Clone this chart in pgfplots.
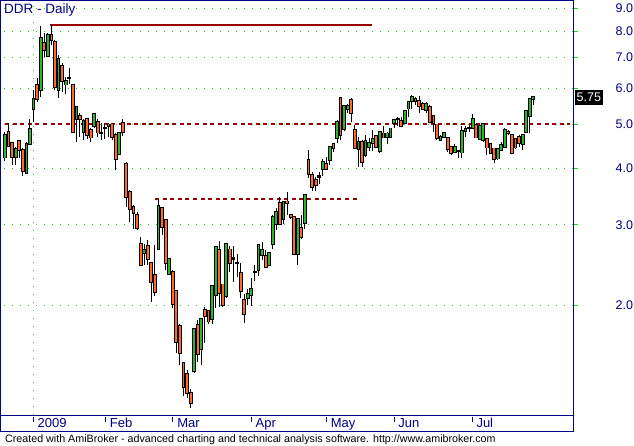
\documentclass[border=0pt]{standalone}
\usepackage{fontspec}
\setmainfont{Liberation Sans}
\usepackage{pgfplots}
\usepackage{pgfplotstable}
\pgfplotsset{compat=1.18}
\definecolor{navy}{HTML}{000088}
\definecolor{gridgreen}{HTML}{33CC33}
\definecolor{upgreen}{HTML}{2DB52D}
\definecolor{downorange}{HTML}{FF6A2B}
\definecolor{trendred}{HTML}{990000}
\newcommand\lab{\fontsize{12.5}{14}\selectfont}

% daily bars, i = bar number (19 Dec 2008 = 0), o h l c
\pgfplotstableread{
i o h l c
0 4.22 4.81 4.15 4.73
1 4.81 5.03 4.45 4.48
2 4.54 4.55 4.06 4.23
3 4.23 4.46 4.06 4.40
4 4.59 4.61 4.21 4.38
5 4.38 4.43 3.84 3.95
6 3.91 4.57 3.89 4.52
7 4.52 5.14 4.50 4.87
8 5.39 5.94 5.05 5.68
9 6.11 6.30 5.60 5.67
10 5.94 8.22 5.74 7.72
11 7.55 7.92 7.03 7.27
12 7.05 7.92 7.03 7.85
13 7.85 8.27 7.46 7.65
14 7.58 7.65 5.94 6.02
15 5.94 7.09 5.71 6.97
16 6.71 6.80 5.89 6.22
17 6.11 6.35 5.81 6.22
18 6.30 6.63 6.14 6.31
19 6.09 6.14 4.77 4.81
20 5.12 5.48 4.57 5.46
21 5.20 5.28 4.69 5.12
22 4.81 5.14 4.61 5.08
23 5.13 5.14 4.63 4.73
24 4.85 4.89 4.57 4.67
25 4.94 5.28 4.89 5.26
26 5.06 5.14 4.69 4.79
27 4.78 5.02 4.61 4.79
28 4.90 4.98 4.63 4.91
29 4.94 5.02 4.69 4.99
30 4.99 5.02 4.61 4.68
31 4.73 4.77 3.96 4.18
32 4.29 4.81 4.27 4.79
33 5.02 5.13 4.71 4.81
34 4.08 4.13 3.29 3.46
35 3.55 3.58 3.05 3.25
36 3.29 3.32 2.94 3.18
37 3.16 3.20 2.92 2.95
38 2.73 2.82 2.44 2.45
39 2.60 2.73 2.45 2.64
40 2.70 2.78 2.45 2.52
41 2.48 2.49 2.03 2.25
42 2.33 2.71 2.09 2.14
43 2.66 3.43 2.65 3.31
44 3.27 3.29 2.85 2.97
45 3.08 3.10 2.39 2.47
46 2.34 2.54 2.33 2.53
47 2.37 2.39 1.97 2.01
48 2.15 2.16 1.57 1.66
49 1.80 1.82 1.48 1.57
50 1.49 1.49 1.26 1.32
51 1.41 1.44 1.25 1.28
52 1.28 1.31 1.19 1.22
53 1.43 1.78 1.42 1.77
54 1.81 1.85 1.50 1.56
55 1.60 1.87 1.48 1.86
56 1.95 1.98 1.65 1.89
57 1.94 1.95 1.82 1.84
58 1.86 2.21 1.82 2.20
59 2.10 2.69 1.97 2.68
60 2.64 2.76 1.98 2.13
61 2.22 2.23 1.98 2.00
62 2.09 2.73 2.07 2.72
63 2.65 2.70 2.37 2.47
64 2.53 2.70 2.25 2.54
65 2.47 2.59 2.30 2.48
66 2.35 2.47 2.07 2.15
67 2.05 2.12 1.83 1.91
68 2.07 2.17 2.00 2.12
69 2.10 2.29 1.99 2.17
70 2.36 2.45 2.26 2.37
71 2.39 2.71 2.32 2.71
72 2.58 2.75 2.51 2.64
73 2.57 2.64 2.41 2.42
74 2.45 2.61 2.44 2.60
75 2.73 3.15 2.66 3.12
76 3.01 3.27 2.92 3.21
77 3.35 3.45 3.00 3.01
78 3.09 3.39 3.01 3.37
79 3.38 3.54 3.15 3.35
80 3.15 3.17 3.10 3.12
81 3.12 3.13 2.58 2.59
82 2.59 3.10 2.45 3.09
83 2.96 3.15 2.79 2.82
84 3.03 3.49 2.94 3.49
85 4.17 4.38 3.81 3.89
86 3.86 3.93 3.56 3.64
87 3.77 3.83 3.56 3.67
88 3.83 3.93 3.70 3.84
89 3.99 4.20 3.85 4.12
90 4.08 4.23 3.98 3.99
91 4.17 4.48 4.06 4.46
92 4.52 4.54 4.34 4.42
93 4.65 5.10 4.55 5.06
94 5.70 5.71 4.61 4.73
95 4.87 5.51 4.83 5.49
96 5.39 5.54 5.28 5.48
97 5.65 5.70 5.06 5.28
98 4.85 4.98 4.40 4.42
99 4.41 4.69 4.03 4.57
100 4.57 4.61 4.03 4.13
101 4.27 4.73 4.23 4.59
102 4.46 4.65 4.37 4.54
103 4.54 4.85 4.37 4.63
104 4.71 4.73 4.44 4.45
105 4.36 4.83 4.32 4.81
106 4.77 4.94 4.65 4.67
107 4.69 4.81 4.51 4.77
108 4.68 4.91 4.67 4.89
109 5.02 5.14 4.89 5.10
110 5.12 5.19 4.95 5.13
111 5.08 5.18 4.95 4.96
112 5.02 5.37 5.00 5.34
113 5.41 5.60 5.18 5.59
114 5.62 5.79 5.41 5.74
115 5.68 5.74 5.51 5.62
116 5.63 5.76 5.28 5.48
117 5.55 5.60 5.37 5.39
118 5.37 5.60 5.28 5.55
119 5.46 5.51 5.02 5.06
120 5.20 5.23 4.81 5.02
121 4.99 5.00 4.61 4.65
122 4.61 4.73 4.60 4.69
123 4.69 4.81 4.68 4.79
124 4.67 4.69 4.34 4.40
125 4.46 4.48 4.27 4.31
126 4.34 4.52 4.31 4.46
127 4.36 4.38 4.22 4.37
128 4.33 4.96 4.22 4.83
129 4.83 4.96 4.69 4.87
130 4.89 4.98 4.81 4.90
131 4.91 5.26 4.89 5.13
132 4.98 5.02 4.65 4.67
133 4.63 4.98 4.61 4.96
134 4.61 5.02 4.57 5.00
135 4.63 4.67 4.27 4.44
136 4.52 4.54 4.29 4.31
137 4.42 4.43 4.10 4.18
138 4.20 4.42 4.17 4.40
139 4.38 4.57 4.37 4.50
140 4.45 4.91 4.42 4.85
141 4.81 4.85 4.73 4.77
142 4.73 4.74 4.29 4.31
143 4.63 4.65 4.40 4.44
144 4.69 4.73 4.46 4.54
145 4.52 4.75 4.38 4.73
146 4.81 5.35 4.79 5.34
147 5.20 5.70 4.77 5.68
148 5.68 5.77 5.51 5.75
}\ohlc

\begin{document}
\begin{tikzpicture}
\begin{axis}[
  at={(0.5pt,30pt)}, anchor=south west,
  scale only axis, width=572.5pt, height=414.5pt,
  xmin=-1.26, xmax=159.1,
  ymode=log, ymin=1.146, ymax=9.35,
  clip=false,
  axis line style={navy, line width=1pt},
  xtick=\empty,
  ytick={2,3,4,5,6,7,8,9}, yticklabels={},
  ytick pos=right, tick align=outside, major tick length=4.5pt,
  ytick style={gridgreen, line width=1pt},
  ymajorgrids,
  y grid style={gridgreen, line width=1pt, dash pattern=on 1pt off 7pt, dash phase=4.2pt},
]
% year boundary grid line
\draw[gridgreen, line width=1pt, dash pattern=on 1pt off 7pt] (axis cs:7.9,1.146) -- (axis cs:7.9,9.35);

% trend lines
\addplot[trendred, line width=2pt] coordinates {(12.6,8.27) (102.9,8.27)};
\addplot[trendred, line width=1.4pt, dash pattern=on 4pt off 3.6pt] coordinates {(0,5.0) (158.3,5.0)};
\addplot[trendred, line width=1.4pt, dash pattern=on 4pt off 3.6pt] coordinates {(42,3.42) (99.2,3.42)};

% wicks
\addplot[draw=none, mark=none, error bars/.cd, y dir=plus, y explicit, error mark=none,
  error bar style={draw=black, solid, line width=1pt}]
  table[x=i, y=l, y error plus expr=\thisrow{h}-\thisrow{l}] {\ohlc};
% body outlines
\addplot[draw=none, mark=none, error bars/.cd, y dir=plus, y explicit, error mark=none,
  error bar style={draw=black, solid, line width=3.8pt, shorten <=-0.9pt, shorten >=-0.9pt}]
  table[x=i, y expr={min(\thisrow{o},\thisrow{c})}, y error plus expr={abs(\thisrow{c}-\thisrow{o})}] {\ohlc};
% up bodies
\addplot[draw=none, mark=none, restrict expr to domain={\thisrow{c}-\thisrow{o}}{0.015:100},
  error bars/.cd, y dir=plus, y explicit, error mark=none,
  error bar style={draw=upgreen, solid, line width=1.8pt}]
  table[x=i, y=o, y error plus expr=\thisrow{c}-\thisrow{o}] {\ohlc};
% down bodies
\addplot[draw=none, mark=none, restrict expr to domain={\thisrow{o}-\thisrow{c}}{0.015:100},
  error bars/.cd, y dir=plus, y explicit, error mark=none,
  error bar style={draw=downorange, solid, line width=1.8pt}]
  table[x=i, y=c, y error plus expr=\thisrow{o}-\thisrow{c}] {\ohlc};
\end{axis}

% price scale (log: y = 140pt + 197.5pt * ln(p/2))
\foreach \y/\t in {140/2.0, 220.1/3.0, 276.9/4.0, 321.0/5.0, 357.0/6.0, 387.4/7.0, 413.8/8.0, 437.1/9.0}
  \node[anchor=west, inner sep=0pt, font=\lab, text=navy] at (615.5pt,\y pt) {\t};
\node[fill=black, text=white, inner sep=0pt, minimum width=27.3pt, minimum height=15pt,
  anchor=west, font=\lab] at (575pt,347.5pt) {5.75};

% title
\node[anchor=base west, inner sep=0pt, text=navy, font=\fontsize{13.5}{15}\selectfont] at (4pt,431pt) {DDR - Daily};

% date strip
\draw[navy, line width=1pt] (0.5pt,30pt) -- (0.5pt,13.5pt) -- (573pt,13.5pt) -- (573pt,30pt);
\foreach \x/\m in {33.2/2009, 105.5/Feb, 172.9/Mar, 251.3/Apr, 326.5/May, 394/Jun, 472.1/Jul} {
  \draw[navy, line width=1pt] (\x pt,28.5pt) -- (\x pt,23.3pt);
  \node[anchor=base west, inner sep=0pt, text=navy, font=\fontsize{13}{14}\selectfont] at (\x pt+4.2pt,17.3pt) {\m};
}

% footer
\node[anchor=base west, inner sep=0pt, font=\fontsize{10.7}{12}\selectfont] at (5pt,2.7pt)
  {Created with AmiBroker - advanced charting and technical analysis software. http://www.amibroker.com};

\pgfresetboundingbox
\path[use as bounding box] (0,0) rectangle (634pt,445pt);
\end{tikzpicture}
\end{document}
